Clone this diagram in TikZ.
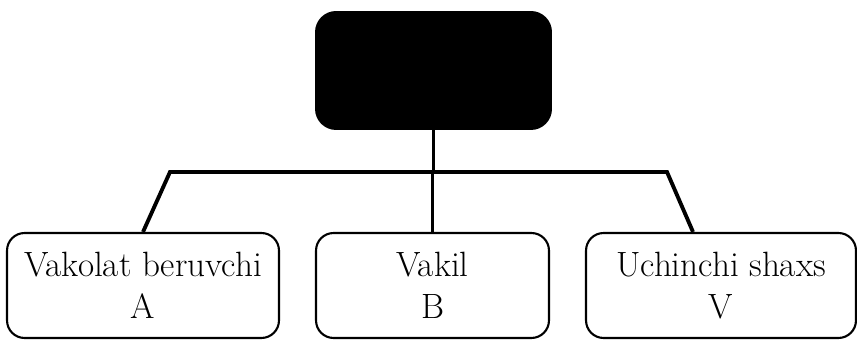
\documentclass[tikz,border=0pt]{standalone}
\usepackage{fontspec}
\usepackage{tikz}

\tikzset{
  rolebox/.style={draw, line width=1.2pt, rounded corners=10pt, fill=white,
                  minimum height=2.1cm, align=center, inner sep=0pt,
                  font=\fontsize{20}{24}\selectfont},
  link/.style={line width=2.2pt}
}

\begin{document}
\begin{tikzpicture}[x=0.02cm, y=-0.02cm]
\useasboundingbox (0,0) rectangle (857,340);

\node[
      fill=black,
      rounded corners=12pt,
      minimum width=4.74cm,
      minimum height=2.38cm
] (topbox) at (433.5,70.5) {};

\node[rolebox, minimum width=5.44cm] (berish) at (143,285.5) {Vakolat beruvchi\\A};
\node[rolebox, minimum width=4.66cm] (vakil) at (432.5,285.5) {Vakil\\B};
\node[rolebox, minimum width=5.4cm] (shaxs) at (721,285.5) {Uchinchi shaxs\\V};

\coordinate (hl) at (170,172);
\coordinate (hr) at (667,172);

\draw[link] (topbox.south) -- (topbox.south |- hl);
\draw[link] (berish.north) -- (hl) -- (hr) -- ([xshift=-0.56cm]shaxs.north);
\draw[link] (vakil.north |- hl) -- (vakil.north);
\end{tikzpicture}
\end{document}
